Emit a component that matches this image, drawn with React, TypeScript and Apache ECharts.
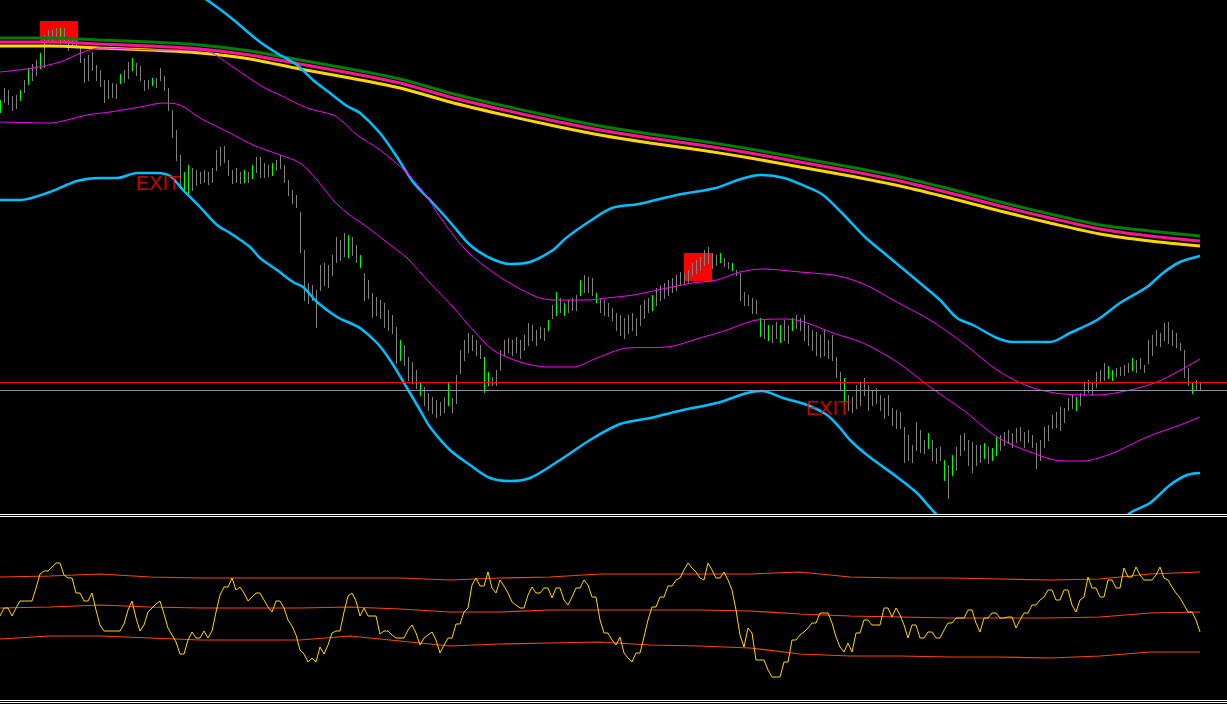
import React, { useEffect, useRef } from "react";
import * as echarts from "echarts";

// Time units: one bar every 4 units. Price levels use an inverted axis (0 = top of the price pane).
const BAR_STEP = 4;

const barHigh = [
  100, 88, 90, 96, 95, 90, 80, 68, 64, 60,
  53, 35, 30, 30, 28, 28, 28, 38, 38, 40,
  47, 58, 55, 52, 65, 70, 80, 80, 83, 84,
  74, 70, 62, 58, 63, 66, 80, 80, 78, 78,
  68, 76, 88, 110, 130, 155, 172, 165, 168, 170,
  172, 170, 172, 168, 150, 147, 146, 160, 170, 168,
  172, 170, 172, 165, 157, 157, 163, 165, 163, 160,
  155, 165, 180, 190, 195, 212, 250, 283, 285, 290,
  265, 263, 265, 255, 237, 240, 233, 235, 237, 245,
  255, 273, 280, 293, 297, 300, 303, 310, 315, 327,
  340, 345, 357, 362, 370, 383, 387, 393, 397, 400,
  402, 397, 383, 398, 375, 350, 340, 333, 335, 340,
  345, 357, 372, 377, 370, 350, 340, 338, 340, 337,
  340, 335, 323, 325, 330, 327, 328, 320, 305, 292,
  298, 303, 300, 298, 295, 280, 275, 277, 278, 293,
  298, 300, 303, 308, 313, 315, 318, 315, 313, 318,
  305, 300, 298, 295, 288, 285, 283, 280, 278, 275,
  272, 273, 270, 263, 260, 257, 250, 247, 253, 255,
  253, 258, 262, 263, 270, 273, 292, 295, 298, 300,
  318, 320, 325, 325, 322, 325, 320, 325, 318, 315,
  318, 315, 325, 330, 332, 335, 330, 340, 335, 357,
  372, 378, 395, 397, 385, 382, 378, 385, 390, 388,
  395, 398, 395, 408, 410, 412, 427, 435, 445, 422,
  430, 440, 433, 440, 448, 447, 460, 465, 455, 447,
  435, 433, 440, 442, 445, 445, 443, 447, 448, 437,
  435, 432, 430, 433, 428, 427, 432, 430, 435, 443,
  440, 427, 425, 415, 412, 407, 408, 398, 395, 397,
  393, 382, 380, 383, 372, 370, 363, 366, 370, 368,
  367, 365, 363, 358, 360, 358, 365, 340, 335, 330,
  333, 323, 322, 330, 333, 343, 350, 368, 382, 380,
  383,
];

const barLow = [
  112, 102, 104, 110, 108, 100, 92, 84, 80, 75,
  68, 67, 42, 40, 38, 43, 40, 50, 46, 47,
  62, 82, 80, 70, 80, 86, 102, 98, 97, 98,
  83, 82, 78, 70, 75, 80, 90, 88, 85, 87,
  80, 90, 110, 137, 160, 188, 192, 193, 190, 185,
  183, 182, 184, 182, 170, 165, 162, 175, 183, 182,
  183, 182, 182, 178, 172, 177, 177, 176, 175, 170,
  168, 182, 195, 203, 207, 252, 300, 303, 300, 327,
  290, 285, 287, 275, 262, 260, 256, 257, 255, 262,
  267, 300, 298, 317, 315, 318, 327, 330, 333, 363,
  360, 365, 380, 383, 388, 395, 405, 410, 413, 417,
  415, 412, 405, 412, 403, 373, 360, 352, 350, 355,
  358, 392, 385, 385, 385, 370, 355, 352, 355, 352,
  358, 350, 345, 340, 345, 338, 340, 330, 318, 315,
  312, 315, 312, 310, 310, 295, 292, 292, 295, 302,
  312, 315, 316, 320, 330, 335, 338, 333, 330, 335,
  325, 318, 312, 310, 305, 300, 298, 295, 292, 290,
  285, 283, 282, 275, 273, 270, 265, 263, 268, 265,
  262, 266, 268, 270, 275, 300, 305, 305, 313, 313,
  336, 338, 340, 342, 338, 342, 340, 343, 330, 328,
  330, 340, 345, 350, 355, 357, 355, 358, 360, 377,
  390, 405, 410, 412, 408, 405, 395, 410, 405, 403,
  410, 418, 415, 425, 428, 428, 462, 460, 462, 450,
  452, 453, 448, 460, 463, 460, 480, 498, 475, 470,
  455, 450, 465, 472, 465, 462, 458, 463, 460, 455,
  450, 445, 443, 447, 442, 440, 447, 442, 447, 468,
  460, 447, 440, 428, 427, 430, 422, 410, 408, 410,
  405, 395, 392, 395, 387, 382, 380, 378, 380, 376,
  375, 375, 372, 370, 372, 368, 372, 363, 355, 345,
  346, 340, 343, 345, 347, 350, 377, 385, 393, 390,
  390,
];

const upBars = [0, 5, 7, 10, 15, 30, 33, 38, 46, 47, 61, 63, 68, 87, 90, 100, 105, 112, 121, 122, 137, 139, 141, 145, 149, 163, 180, 183, 190, 192, 195, 198, 211, 232, 236, 238, 246, 248, 249, 269, 277, 278, 283, 298];

const maTime = [0, 50, 100, 150, 200, 250, 300, 350, 400, 450, 500, 550, 600, 650, 700, 750, 800, 850, 900, 950, 1000, 1050, 1100, 1150, 1200];
const maGreen = [38, 38, 40, 42, 45, 51, 60, 69, 79, 93, 105, 116, 126, 134, 141, 149, 158, 167, 177, 189, 202, 214, 225, 231, 236];
const maPink = [42, 42, 44, 46, 49, 55, 64, 73, 83, 97, 109, 120, 130, 138, 145, 153, 162, 171, 181, 193, 206, 218, 229, 236, 241];
const maYellow = [46, 46, 48, 50, 53, 59, 69, 78, 88, 102, 114, 125, 135, 143, 150, 158, 167, 176, 186, 198, 211, 223, 234, 241, 246];

const cyanUpT = [150, 180, 207, 230, 260, 280, 297, 313, 330, 347, 360, 380, 397, 413, 430, 450, 470, 490, 510, 530, 553, 566, 590, 612, 639, 677, 716, 738, 760, 784, 807, 823, 842, 865, 890, 920, 940, 957, 973, 997, 1013, 1050, 1070, 1097, 1120, 1147, 1163, 1180, 1200];
const cyanUpV = [-37, -18, 0, 17, 42, 55, 65, 80, 93, 106, 113, 133, 157, 182, 200, 222, 245, 258, 264, 262, 250, 238, 221, 208, 204, 195, 188, 180, 175, 178, 187, 195, 213, 237, 258, 283, 300, 318, 325, 338, 342, 342, 333, 320, 303, 287, 273, 262, 256];

const cyanLoT = [0, 20, 50, 77, 100, 117, 137, 157, 170, 183, 200, 217, 230, 250, 260, 277, 293, 303, 317, 337, 350, 360, 377, 390, 407, 420, 430, 450, 470, 490, 510, 530, 560, 590, 620, 650, 683, 717, 747, 762, 783, 807, 827, 840, 850, 867, 897, 917, 935, 960, 1000, 1050, 1100, 1130, 1150, 1170, 1187, 1200];
const cyanLoV = [200, 200, 192, 181, 178, 178, 173, 173, 176, 190, 207, 225, 233, 247, 258, 270, 282, 287, 302, 317, 323, 328, 343, 360, 388, 410, 427, 450, 465, 478, 481, 478, 460, 440, 424, 418, 410, 403, 393, 391, 398, 405, 415, 428, 440, 455, 477, 493, 513, 535, 555, 560, 540, 513, 503, 485, 475, 473];

const magUpT = [0, 33, 60, 83, 100, 130, 160, 190, 207, 230, 263, 280, 307, 333, 343, 357, 380, 407, 427, 440, 463, 487, 513, 537, 553, 587, 607, 633, 667, 693, 717, 740, 763, 800, 833, 850, 870, 893, 930, 963, 997, 1030, 1063, 1097, 1130, 1157, 1177, 1200];
const magUpV = [72, 68, 62, 52, 48, 49, 50, 50, 51, 65, 87, 95, 108, 115, 122, 135, 150, 173, 197, 217, 247, 268, 285, 297, 300, 300, 298, 295, 288, 283, 280, 272, 269, 272, 275, 279, 287, 300, 320, 343, 370, 387, 394, 395, 390, 382, 372, 359];

const magLoT = [0, 50, 67, 87, 110, 140, 163, 180, 200, 230, 253, 280, 300, 317, 333, 347, 367, 393, 407, 430, 453, 473, 493, 520, 547, 573, 597, 627, 667, 700, 727, 740, 757, 787, 807, 833, 863, 897, 930, 963, 997, 1030, 1063, 1083, 1113, 1147, 1180, 1200];
const magLoV = [122, 123, 120, 115, 112, 107, 103, 105, 118, 133, 145, 155, 163, 180, 200, 213, 227, 247, 258, 283, 307, 330, 350, 362, 367, 367, 358, 348, 347, 338, 330, 325, 320, 319, 323, 333, 343, 362, 387, 410, 437, 452, 461, 461, 453, 437, 425, 417];

const levelRed = 382.5;
const levelGray = 390.5;

const signalTime = [59, 698];
const signalLevel = [32, 267];
const exitTime = [158, 828];
const exitLevel = [183, 408];

// Oscillator pane (inverted axis, 518 = top of pane)
const oscValues = [
  616, 608, 608, 616, 608, 601, 601, 601, 601, 588,
  574, 571, 571, 567, 563, 563, 575, 578, 578, 593,
  593, 601, 601, 593, 610, 625, 631, 631, 631, 631,
  631, 624, 610, 601, 618, 631, 625, 612, 608, 604,
  601, 614, 628, 635, 642, 654, 654, 640, 632, 638,
  638, 631, 638, 631, 612, 595, 587, 587, 578, 590,
  587, 593, 601, 597, 593, 593, 600, 607, 612, 601,
  601, 608, 620, 626, 635, 650, 654, 662, 658, 662,
  647, 654, 645, 633, 631, 631, 612, 596, 593, 601,
  616, 608, 616, 616, 616, 634, 631, 631, 635, 638,
  638, 638, 630, 625, 633, 645, 638, 635, 632, 640,
  653, 645, 638, 638, 624, 624, 612, 608, 585, 578,
  586, 586, 572, 588, 593, 580, 586, 593, 602, 605,
  608, 608, 595, 587, 593, 593, 588, 588, 598, 588,
  588, 600, 605, 597, 588, 588, 580, 585, 597, 597,
  620, 633, 633, 640, 645, 637, 653, 658, 662, 653,
  653, 637, 620, 607, 607, 597, 597, 586, 586, 580,
  578, 570, 563, 568, 572, 578, 580, 563, 570, 578,
  578, 572, 580, 590, 610, 635, 647, 628, 633, 660,
  660, 660, 670, 677, 677, 677, 662, 662, 640, 640,
  635, 632, 628, 623, 623, 613, 613, 613, 623, 637,
  647, 652, 643, 652, 633, 633, 620, 620, 625, 625,
  625, 608, 608, 617, 608, 615, 625, 638, 625, 625,
  638, 638, 632, 632, 638, 638, 630, 623, 623, 618,
  618, 618, 610, 610, 623, 632, 618, 618, 613, 613,
  618, 618, 617, 617, 628, 620, 613, 613, 605, 605,
  600, 597, 590, 590, 600, 600, 590, 590, 605, 612,
  600, 597, 577, 588, 588, 597, 597, 580, 580, 588,
  588, 568, 577, 577, 567, 575, 580, 580, 580, 575,
  567, 578, 580, 587, 593, 598, 605, 612, 612, 620,
  632,
];

const oscBandT = [0, 50, 100, 150, 200, 250, 300, 350, 400, 450, 500, 550, 600, 650, 700, 750, 800, 850, 900, 950, 1000, 1050, 1100, 1150, 1200];
const oscUpper = [577, 576, 574, 577, 578, 578, 578, 578, 578, 580, 578, 577, 574, 574, 574, 574, 572, 577, 578, 578, 579, 580, 579, 574, 572];
const oscMiddle = [608, 607, 605, 607, 608, 608, 608, 607, 609, 612, 612, 610, 610, 610, 610, 611, 614, 616, 617, 618, 618, 618, 617, 613, 612];
const oscLower = [639, 636, 636, 638, 640, 640, 640, 636, 641, 646, 644, 643, 642, 645, 646, 648, 654, 656, 656, 657, 657, 658, 656, 652, 652];

const pairs = (t: number[], v: number[]) => t.map((x, i) => [x, v[i]]);

export default function App() {
  const ref = useRef<HTMLDivElement>(null);

  useEffect(() => {
    if (!ref.current) return;
    const chart = echarts.init(ref.current, null, { renderer: "svg" });
    const upSet = new Set(upBars);
    const barData = barHigh.map((h, i) => [i * BAR_STEP, h, barLow[i], upSet.has(i) ? 1 : 0]);
    const signalBox = [[38, 22], [28, 28]];

    const bandLine = (name: string, data: number[][], color: string, width: number, z: number, xi = 0) => ({
      name,
      type: "line",
      xAxisIndex: xi,
      yAxisIndex: xi,
      data,
      showSymbol: false,
      symbol: "none",
      smooth: 0.3,
      clip: true,
      z,
      lineStyle: { color, width },
      silent: true,
    });

    const option: any = {
      animation: false,
      backgroundColor: "#000000",
      grid: [
        { left: 0, right: 0, top: 0, height: 513 },
        { left: 0, right: 0, top: 518, height: 182 },
      ],
      xAxis: [
        { type: "value", gridIndex: 0, min: 0, max: 1227, show: false },
        { type: "value", gridIndex: 1, min: 0, max: 1227, show: false },
      ],
      yAxis: [
        { type: "value", gridIndex: 0, min: 0, max: 513, inverse: true, show: false },
        { type: "value", gridIndex: 1, min: 518, max: 700, inverse: true, show: false },
      ],
      graphic: [
        { type: "line", shape: { x1: 0, y1: 514.5, x2: 1227, y2: 514.5 }, style: { stroke: "#ffffff", lineWidth: 1 }, z: 10 },
        { type: "line", shape: { x1: 0, y1: 516.5, x2: 1227, y2: 516.5 }, style: { stroke: "#ffffff", lineWidth: 1 }, z: 10 },
        { type: "line", shape: { x1: 0, y1: 700.5, x2: 1227, y2: 700.5 }, style: { stroke: "#ffffff", lineWidth: 1 }, z: 10 },
        { type: "line", shape: { x1: 0, y1: 702.5, x2: 1227, y2: 702.5 }, style: { stroke: "#ffffff", lineWidth: 1 }, z: 10 },
      ],
      series: [
        {
          name: "signal",
          type: "scatter",
          symbol: "rect",
          z: 1,
          silent: true,
          data: signalTime.map((t, i) => ({ value: [t, signalLevel[i]], symbolSize: signalBox[i] })),
          itemStyle: { color: "#ff0000", opacity: 1 },
        },
        {
          name: "bars",
          type: "custom",
          z: 2,
          silent: true,
          data: barData,
          renderItem: (params: any, api: any) => {
            const t = api.value(0);
            const p1 = api.coord([t, api.value(1)]);
            const p2 = api.coord([t, api.value(2)]);
            const x = Math.round(p1[0]) + 0.5;
            return {
              type: "line",
              shape: { x1: x, y1: Math.round(p1[1]), x2: x, y2: Math.round(p2[1]) + 1 },
              style: { stroke: api.value(3) ? "#00ff00" : "#808080", lineWidth: 1 },
            };
          },
        },
        bandLine("MA slow", pairs(maTime, maGreen), "#008000", 3, 3),
        bandLine("MA mid", pairs(maTime, maPink), "#ff1493", 3, 3),
        bandLine("MA fast", pairs(maTime, maYellow), "#ffd700", 3, 3),
        bandLine("Band upper", pairs(cyanUpT, cyanUpV), "#00bfff", 2.5, 4),
        {
          ...bandLine("Band lower", pairs(cyanLoT, cyanLoV), "#00bfff", 2.5, 4),
          markLine: {
            silent: true,
            symbol: ["none", "none"],
            label: { show: false },
            animation: false,
            data: [
              { yAxis: levelRed, lineStyle: { color: "#ff0000", width: 1, type: "solid" } },
              { yAxis: levelGray, lineStyle: { color: "#8a96a8", width: 1, type: "solid" } },
            ],
          },
        },
        bandLine("Inner upper", pairs(magUpT, magUpV), "#ff00ff", 1, 4),
        bandLine("Inner lower", pairs(magLoT, magLoV), "#ff00ff", 1, 4),
        {
          name: "exit",
          type: "scatter",
          z: 6,
          silent: true,
          symbolSize: 1,
          itemStyle: { color: "transparent" },
          data: exitTime.map((t, i) => [t, exitLevel[i]]),
          label: {
            show: true,
            position: "inside",
            formatter: "EXIT",
            color: "#ff0000",
            fontSize: 20,
            fontFamily: "'Liberation Sans', Arial, sans-serif",
          },
        },
        {
          ...bandLine("Osc", oscValues.map((v, i) => [i * BAR_STEP, v]), "#ffd700", 1, 4, 1),
          smooth: false,
        },
        { ...bandLine("Osc upper", pairs(oscBandT, oscUpper), "#ff4500", 1.2, 3, 1), smooth: false },
        { ...bandLine("Osc middle", pairs(oscBandT, oscMiddle), "#ff4500", 1.2, 3, 1), smooth: false },
        { ...bandLine("Osc lower", pairs(oscBandT, oscLower), "#ff4500", 1.2, 3, 1), smooth: false },
      ],
    };
    chart.setOption(option);
    return () => chart.dispose();
  }, []);

  return (
    <div
      ref={ref}
      style={{ position: "fixed", left: 0, top: 0, width: 1227, height: 704, background: "#000000" }}
    />
  );
}
